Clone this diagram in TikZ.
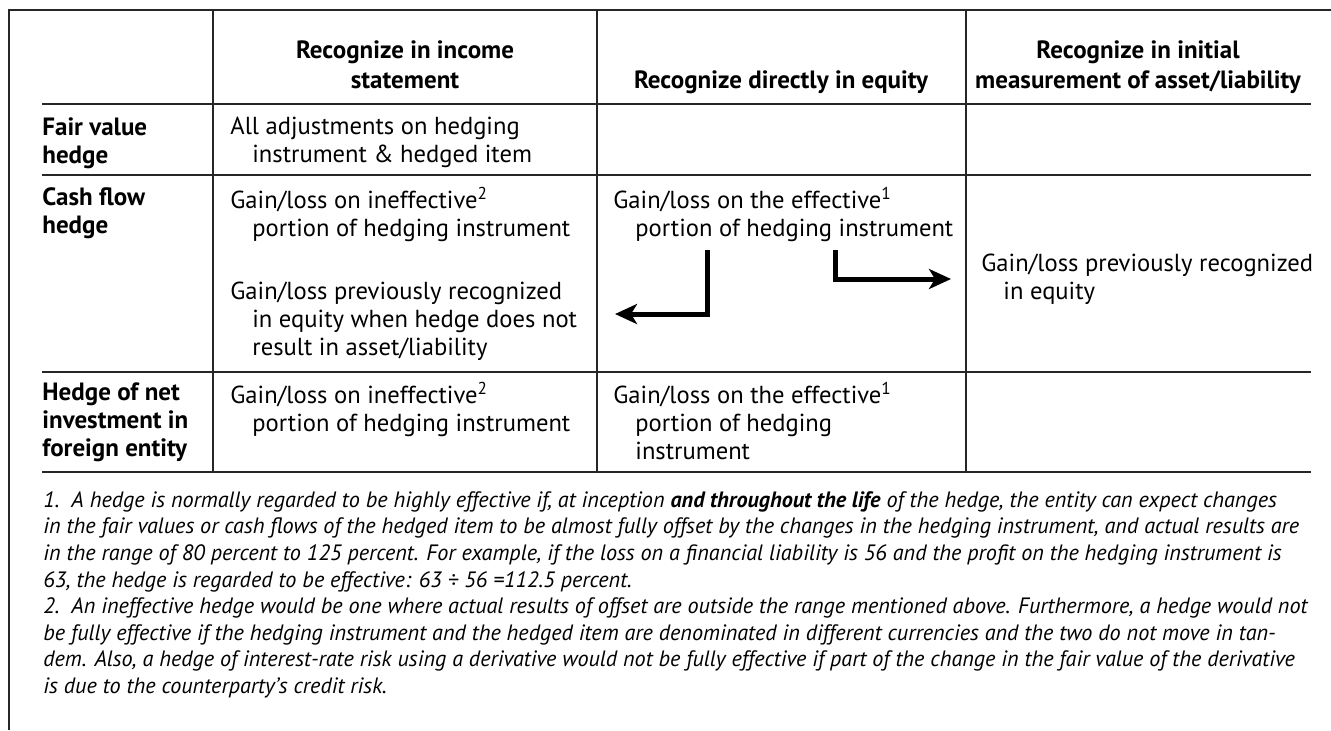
\documentclass[tikz,border=0pt]{standalone}
\usepackage{fontspec}
\setmainfont{PT Sans}
\usepackage{tikz}
\usetikzlibrary{positioning}
\usetikzlibrary{arrows.meta}
\newcommand{\retrait}{\hspace*{11pt}}
\tikzset{
  cell/.style = {align=left, inner sep=0pt, anchor=north west,
    font=\fontsize{12.3}{14}\selectfont},
  cell_h/.style = {cell, align=center, anchor=north,
    font=\fontsize{12.5}{15}\selectfont\bfseries},% en-tete de colonne
  cell_l/.style = {cell, font=\fontsize{12.5}{14}\selectfont\bfseries},% libelle de ligne
  cell_t/.style = {cell},% texte de cellule
  note_t/.style = {cell, font=\fontsize{11.1}{13.3}\selectfont\itshape},% notes en bas
  trait/.style = {draw=black!85, line width=0.65pt},% filet du tableau
  fleche/.style = {-{Stealth[length=11pt,width=10pt,inset=3pt]},
    line width=2.5pt}% fleche coudee
}

\begin{document}
\begin{tikzpicture}[x=0.5pt,y=-0.5pt]
\useasboundingbox (0,0) rectangle (1331,730);
% cadre et grille
\draw[trait] (9,730) -- (9,10) -- (1331,10);
\foreach \y in {104,175,372,472}
  \draw[trait] (42,\y) -- (1311,\y);
\foreach \x in {213,597,966}
  \draw[trait] (\x,10) -- (\x,472);
% en-tetes
\node[cell_h] (h1) at (405,40) {Recognize in income\\statement};
\node[cell_h] (h2) at (781,70) {Recognize directly in equity};
\node[cell_h] (h3) at (1138,40) {Recognize in initial\\measurement of asset/liability};
% fair value hedge
\node[cell_l] (fv) at (42,117) {Fair value\\hedge};
\node[cell_t] (fv1) at (230,117) {All adjustments on hedging\\\retrait instrument \& hedged item};
% cash flow hedge
\node[cell_l] (cf) at (42,187) {Cash flow\\hedge};
\node[cell_t] (cf1) at (230,187) {Gain/loss on ineffective\textsuperscript{2}\\\retrait portion of hedging instrument};
\node[cell_t] (cf1b) at (230,282) {Gain/loss previously recognized\\\retrait in equity when hedge does not\\\retrait result in asset/liability};
\node[cell_t] (cf2) at (613,187) {Gain/loss on the effective\textsuperscript{1}\\\retrait portion of hedging instrument};
\node[cell_t] (cf3) at (981,254) {Gain/loss previously recognized\\\retrait in equity};
% net investment
\node[cell_l] (ni) at (42,382) {Hedge of net\\investment in\\foreign entity};
\node[cell_t] (ni1) at (230,382) {Gain/loss on ineffective\textsuperscript{2}\\\retrait portion of hedging instrument};
\node[cell_t] (ni2) at (613,382) {Gain/loss on the effective\textsuperscript{1}\\\retrait portion of hedging\\\retrait instrument};
% fleches
\coordinate (g0) at (707,250);
\coordinate (g1) at (615,314);
\coordinate (d0) at (835,250);
\coordinate (d1) at (951,279);
\draw[fleche] (g0) |- (g1);
\draw[fleche] (d0) |- (d1);
% notes
\node[note_t] (notes) at (43,491) {1.~~A hedge is normally regarded to be highly effective if, at inception \textbf{and throughout the life} of the hedge, the entity can expect changes\\
in the fair values or cash flows of the hedged item to be almost fully offset by the changes in the hedging instrument, and actual results are\\
in the range of 80 percent to 125 percent. For example, if the loss on a financial liability is 56 and the profit on the hedging instrument is\\
63, the hedge is regarded to be effective: 63 ÷ 56 =112.5 percent.\\
2.~~An ineffective hedge would be one where actual results of offset are outside the range mentioned above. Furthermore, a hedge would not\\
be fully effective if the hedging instrument and the hedged item are denominated in different currencies and the two do not move in tan-\\
dem. Also, a hedge of interest-rate risk using a derivative would not be fully effective if part of the change in the fair value of the derivative\\
is due to the counterparty’s credit risk.};
\end{tikzpicture}
\end{document}
